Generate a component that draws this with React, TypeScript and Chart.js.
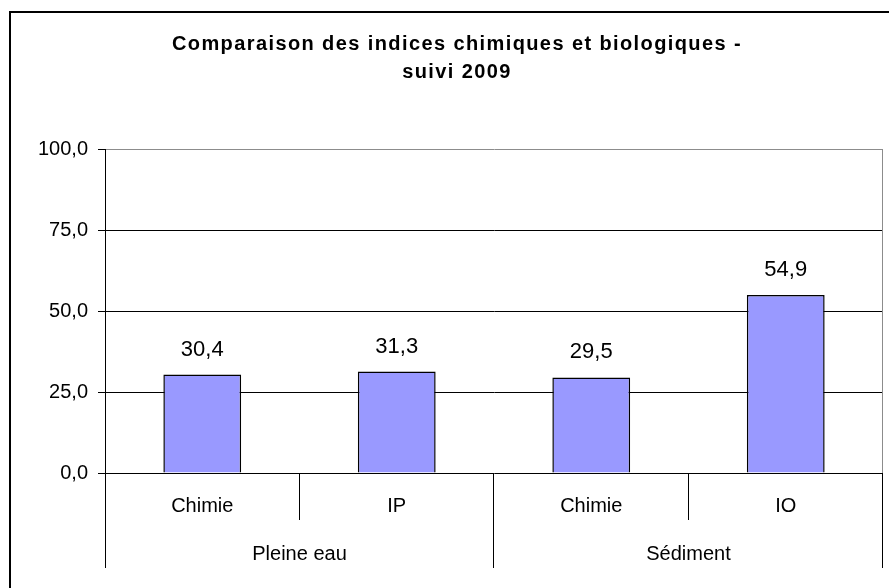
import React, { useEffect, useRef } from "react";
import { Chart, registerables } from "chart.js";

Chart.register(...registerables);

const titleLines = ["Comparaison des indices chimiques et biologiques -", "suivi 2009"];
const categories = ["Chimie", "IP", "Chimie", "IO"];
const groups = ["Pleine eau", "Sédiment"];
const groupOfCategory = [0, 0, 1, 1];
const values = [30.4, 31.3, 29.5, 54.9];
const yMin = 0;
const yMax = 100;
const yStep = 25;

const FONT = '"Liberation Sans", Arial, sans-serif';
const fmt = (v: number) => v.toFixed(1).replace(".", ",");

const decorPlugin = {
  id: "decor",
  beforeDatasetsDraw(chart: any) {
    const { ctx, chartArea } = chart;
    ctx.save();
    ctx.strokeStyle = "#8c8c8c";
    ctx.lineWidth = 1;
    ctx.beginPath();
    ctx.moveTo(chartArea.right - 0.5, chartArea.top);
    ctx.lineTo(chartArea.right - 0.5, chartArea.bottom);
    ctx.stroke();
    ctx.restore();
  },
  afterDraw(chart: any) {
    const { ctx, chartArea } = chart;
    const xs = chart.scales.x;
    ctx.save();
    // outer frame
    ctx.strokeStyle = "#000";
    ctx.lineWidth = 2;
    ctx.beginPath();
    ctx.moveTo(10, chart.height + 5);
    ctx.lineTo(10, 12);
    ctx.lineTo(chart.width + 5, 12);
    ctx.stroke();

    // title
    ctx.fillStyle = "#000";
    ctx.font = `bold 20px ${FONT}`;
    (ctx as any).letterSpacing = "1.4px";
    ctx.textAlign = "center";
    ctx.textBaseline = "alphabetic";
    ctx.fillText(titleLines[0], 457, 50);
    ctx.fillText(titleLines[1], 457, 78);
    (ctx as any).letterSpacing = "0px";

    // value labels
    const meta = chart.getDatasetMeta(0);
    ctx.font = `22px ${FONT}`;
    meta.data.forEach((bar: any, i: number) => {
      ctx.fillText(fmt(values[i]), bar.x, bar.y - 19);
    });

    // multi-level category axis
    const bottom = chartArea.bottom;
    const px = (i: number) => xs.getPixelForValue(i);
    const between = (i: number) => (px(i) + px(i + 1)) / 2;
    ctx.lineWidth = 1;
    ctx.strokeStyle = "#000";
    const vline = (x: number, y2: number) => {
      const xx = Math.round(x) - 0.5;
      ctx.beginPath();
      ctx.moveTo(xx, bottom);
      ctx.lineTo(xx, y2);
      ctx.stroke();
    };
    const level1End = bottom + 47;
    const level2End = bottom + 95;
    vline(chartArea.left + 0.5, level2End);
    vline(chartArea.right, level2End);
    for (let i = 0; i < categories.length - 1; i++) {
      if (groupOfCategory[i] !== groupOfCategory[i + 1]) vline(between(i), level2End);
      else vline(between(i), level1End);
    }
    ctx.font = `20px ${FONT}`;
    ctx.textBaseline = "middle";
    categories.forEach((c, i) => {
      ctx.fillText(c, px(i), bottom + 33);
    });
    groups.forEach((g, gi) => {
      const idx = categories.map((_, i) => i).filter((i) => groupOfCategory[i] === gi);
      const left = idx[0] === 0 ? chartArea.left : between(idx[0] - 1);
      const right = idx[idx.length - 1] === categories.length - 1 ? chartArea.right : between(idx[idx.length - 1]);
      ctx.fillText(g, (left + right) / 2, bottom + 81);
    });
    ctx.restore();
  },
};

export default function App() {
  const ref = useRef<HTMLCanvasElement | null>(null);
  useEffect(() => {
    if (!ref.current) return;
    const chart = new Chart(ref.current, {
      type: "bar",
      data: {
        labels: categories,
        datasets: [
          {
            data: values,
            backgroundColor: "#9999FF",
            borderColor: "#000",
            borderWidth: 1.5,
            barPercentage: 0.4,
            categoryPercentage: 1,
          },
        ],
      },
      options: {
        animation: false,
        responsive: false,
        events: [],
        layout: { padding: { left: 0, top: 149, right: 6, bottom: 115 } },
        plugins: { legend: { display: false }, title: { display: false }, tooltip: { enabled: false } },
        scales: {
          x: { display: false },
          y: {
            min: yMin,
            max: yMax,
            afterFit(scale: any) {
              scale.width = 105;
            },
            ticks: {
              stepSize: yStep,
              color: "#000",
              padding: 10,
              font: { family: FONT, size: 20 },
              callback: (v: any) => fmt(Number(v)),
            },
            grid: {
              color: (c: any) => (c.tick && c.tick.value === yMax ? "#8c8c8c" : "#000"),
              tickColor: "#000",
              tickLength: 7,
              lineWidth: 1,
            },
            border: { display: true, color: "#000", width: 1 },
          },
        },
      },
      plugins: [decorPlugin],
    });
    return () => chart.destroy();
  }, []);
  return (
    <div style={{ position: "absolute", left: 0, top: 0, width: 889, height: 588, background: "#fff" }}>
      <canvas ref={ref} width={889} height={588} style={{ display: "block" }} />
    </div>
  );
}
